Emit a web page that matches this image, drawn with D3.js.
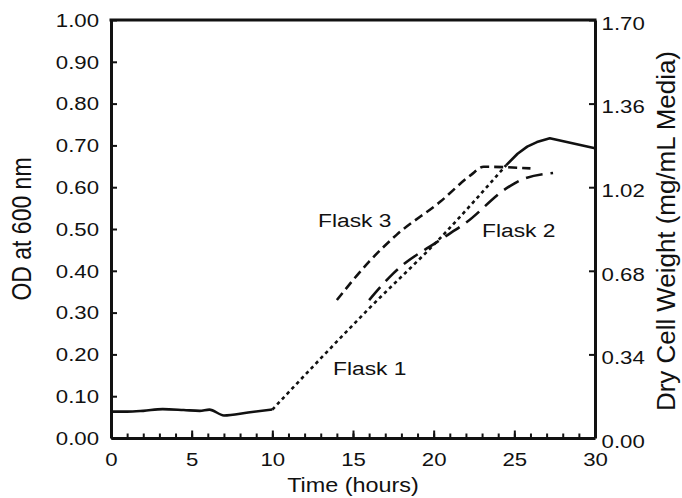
<!DOCTYPE html>
<html>
<head>
<meta charset="utf-8">
<script src="https://cdn.jsdelivr.net/npm/d3@7"></script>
<style>
  body { margin: 0; background: #fff; }
  text { font-family: "Liberation Sans", Arial, sans-serif; fill: #111; }
</style>
</head>
<body>
<svg id="chart"></svg>
<script>
// values (time in hours, OD at 600 nm)
const earlyTime = [0, 1, 2, 3.2, 4.5, 5.5, 6.1, 7, 8.5, 10];
const earlyOD = [0.063, 0.063, 0.065, 0.069, 0.067, 0.065, 0.068, 0.054, 0.061, 0.068];

const flask1Time = [10, 16, 20.4, 24.5];
const flask1OD = [0.068, 0.31, 0.478, 0.653];

const lateTime = [24.5, 25.2, 25.8, 26.4, 27.2, 30];
const lateOD = [0.653, 0.68, 0.697, 0.708, 0.717, 0.693];

const flask2Time = [16, 17.5, 20.4, 22, 24.5, 25.4, 27.4];
const flask2OD = [0.33, 0.394, 0.474, 0.515, 0.597, 0.617, 0.634];

const flask3Time = [14, 16, 17.7, 20.4, 22.3, 23.1, 26];
const flask3OD = [0.33, 0.422, 0.486, 0.565, 0.629, 0.649, 0.645];

const leftTicks = [0, 0.1, 0.2, 0.3, 0.4, 0.5, 0.6, 0.7, 0.8, 0.9, 1.0];
const rightTicks = [0, 0.34, 0.68, 1.02, 1.36, 1.70];
const xMajor = [0, 5, 10, 15, 20, 25, 30];

const width = 682, height = 498;
const mLeft = 111, mRight = 595, mTop = 20, mBottom = 438;
const sx = 1.2; // the printed type is a little wide

const svg = d3.select("#chart").attr("width", width).attr("height", height);

const x = d3.scaleLinear().domain([0, 30]).range([mLeft, mRight]);
const y = d3.scaleLinear().domain([0, 1]).range([mBottom, mTop]);
const y2 = d3.scaleLinear().domain([0, 1.7]).range([mBottom, mTop]);

const zip = (t, v) => t.map((d, i) => [d, v[i]]);
const smooth = d3.line().x(d => x(d[0])).y(d => y(d[1])).curve(d3.curveMonotoneX);
const straight = d3.line().x(d => x(d[0])).y(d => y(d[1]));

// curves
const series = [
  {pts: zip(earlyTime, earlyOD), dash: null, gen: smooth},
  {pts: zip(flask1Time, flask1OD), dash: "3.5,3.5", gen: smooth},
  {pts: zip(lateTime, lateOD), dash: null, gen: straight},
  {pts: zip(flask2Time, flask2OD), dash: "17,8", gen: smooth},
  {pts: zip(flask3Time, flask3OD), dash: "9,5", gen: smooth}
];
svg.append("g").selectAll("path")
  .data(series)
  .join("path")
  .attr("d", d => d.gen(d.pts))
  .attr("fill", "none")
  .attr("stroke", "#111")
  .attr("stroke-width", 2.6)
  .attr("stroke-linejoin", "round")
  .attr("stroke-dasharray", d => d.dash);

// axes
const fs = 18.5;
const gLeft = svg.append("g").attr("transform", `translate(${mLeft},0)`)
  .call(d3.axisLeft(y).tickValues(leftTicks).tickFormat(d3.format(".2f")).tickSizeInner(-6).tickSizeOuter(0));
gLeft.selectAll("text").attr("x", -10).attr("dy", "0.34em")
  .attr("transform", `scale(${sx},1)`).style("font-size", fs + "px");

const gRight = svg.append("g").attr("transform", `translate(${mRight},0)`)
  .call(d3.axisRight(y2).tickValues(rightTicks).tickFormat(d3.format(".2f")).tickSizeInner(-6).tickSizeOuter(0));
gRight.selectAll("text").attr("x", 5.5).attr("dy", "0.5em")
  .attr("transform", `scale(${sx},1)`).style("font-size", fs + "px");

const gMinor = svg.append("g").attr("transform", `translate(0,${mBottom})`)
  .call(d3.axisBottom(x).ticks(30).tickFormat("").tickSizeInner(-4.5).tickSizeOuter(0));
gMinor.select(".domain").remove();

const gBottom = svg.append("g").attr("transform", `translate(0,${mBottom})`)
  .call(d3.axisBottom(x).tickValues(xMajor).tickFormat(d3.format("d")).tickSizeInner(-7.5).tickSizeOuter(0));
gBottom.selectAll("text").attr("y", 28).attr("dy", 0)
  .attr("transform", `scale(${sx},1)`).style("font-size", fs + "px");

svg.selectAll(".domain, .tick line").attr("stroke", "#111");
svg.selectAll(".domain").attr("stroke-width", 3);
svg.selectAll(".tick line").attr("stroke-width", 2);
svg.selectAll(".tick text").attr("fill", "#111").attr("font-family", "Liberation Sans, Arial, sans-serif");

// top border
svg.append("line")
  .attr("x1", x(0)).attr("x2", x(30)).attr("y1", y(1)).attr("y2", y(1))
  .attr("stroke", "#111").attr("stroke-width", 3).attr("stroke-linecap", "square");

// helper for wide text
function wideText(px, py, str, size, rot) {
  return svg.append("text")
    .attr("transform", `translate(${px},${py}) scale(${sx},1)` + (rot ? ` rotate(${rot})` : ""))
    .style("font-size", size + "px")
    .text(str);
}

wideText(x(15), 492, "Time (hours)", 19.5).attr("text-anchor", "middle");
wideText(31, 229, "OD at 600 nm", 23, -90).attr("text-anchor", "middle");
wideText(675, 231, "Dry Cell Weight (mg/mL Media)", 22, -90).attr("text-anchor", "middle")
  .attr("textLength", 360).attr("lengthAdjust", "spacingAndGlyphs");

wideText(318, 227, "Flask 3", 19);
wideText(482, 237, "Flask 2", 19);
wideText(333, 375, "Flask 1", 19);
</script>
</body>
</html>
